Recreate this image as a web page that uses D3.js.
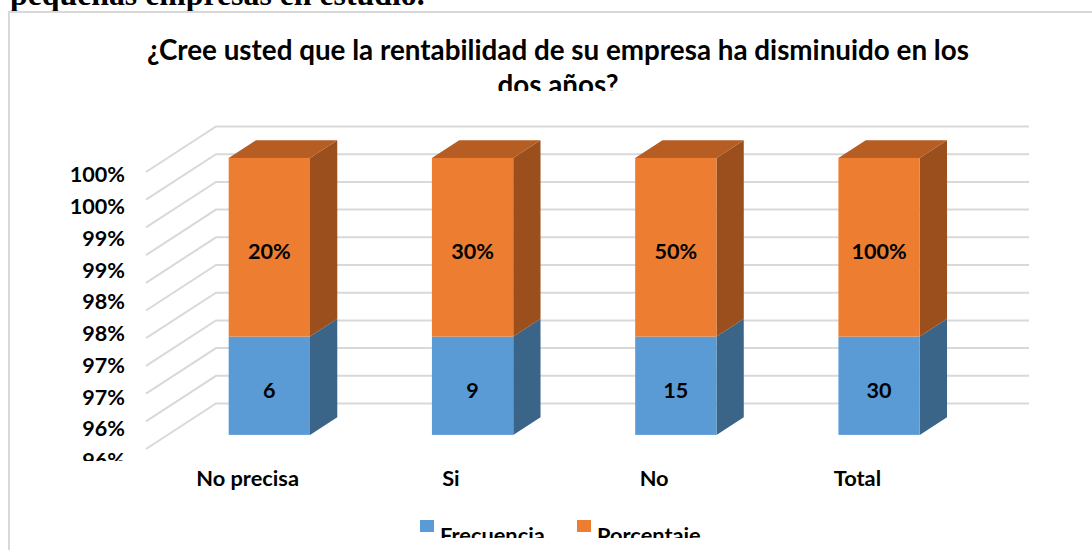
<!DOCTYPE html>
<html>
<head>
<meta charset="utf-8">
<script src="https://cdn.jsdelivr.net/npm/d3@7"></script>
<style>
  html, body { margin: 0; padding: 0; background: #fff; overflow: hidden; }
  text { font-family: Lato, sans-serif; font-weight: 700; fill: #000; }
</style>
</head>
<body>
<div id="chart"></div>
<script>
const categories = ["No precisa", "Si", "No", "Total"];
const frecuencia = [6, 9, 15, 30];
const porcentaje = [0.2, 0.3, 0.5, 1];
const yTickLabels = ["100%", "100%", "99%", "99%", "98%", "98%", "97%", "97%", "96%", "96%"];
const gridValues = [0.95, 0.955, 0.96, 0.965, 0.97, 0.975, 0.98, 0.985, 0.99, 0.995, 1];
const seriesNames = ["Frecuencia", "Porcentaje"];

const width = 1092;
const height = 550;

// the 3D floor: front edge to back edge of the plot box
const depthX = 70;
const depthY = -45.5;
const barFront = 0.31;
const barBack = 0.70;

const svg = d3.select('#chart')
  .append('svg')
  .attr('width', width)
  .attr('height', height);

const defs = svg.append('defs');
const clip = (id, x, y, w, h) => defs.append('clipPath').attr('id', id)
  .append('rect').attr('x', x).attr('y', y).attr('width', w).attr('height', h);
clip('titleClip', 0, 0, width, 91);
clip('yClip', 0, 0, 146, 461);
clip('legendClip', 0, 0, width, 538);

//Heading of the page behind the chart
svg.append('text')
  .attr('x', 10)
  .attr('y', 5)
  .style('font-family', '"Liberation Serif", serif')
  .style('font-size', '31.8px')
  .text('pequeñas empresas en estudio.');

//Chart frame
svg.append('rect')
  .attr('x', 9)
  .attr('y', 12)
  .attr('width', width + 20)
  .attr('height', height + 20)
  .attr('fill', 'none')
  .attr('stroke', '#d9d9d9')
  .attr('stroke-width', 2);

//Title
const title = svg.append('text')
  .attr('clip-path', 'url(#titleClip)')
  .attr('text-anchor', 'middle')
  .style('font-size', '27.8px');
title.append('tspan').attr('x', 558).attr('y', 60)
  .text('¿Cree usted que la rentabilidad de su empresa ha disminuido en los');
title.append('tspan').attr('x', 558).attr('y', 95)
  .text('dos años?');

//Scales
const x = d3.scaleBand()
  .domain(categories)
  .range([216, 1029])
  .paddingInner(0.6)
  .paddingOuter(0.3);

const y = d3.scaleLinear()
  .domain([0.95, 1])
  .range([449, 172]);

const yLabel = d3.scalePoint()
  .domain(d3.range(yTickLabels.length))
  .range([174.5, 460.5]);

//Gridlines, floor part then back wall part
const grid = svg.append('g').attr('class', 'grid');
grid.selectAll('path')
  .data(gridValues)
  .enter().append('path')
  .attr('d', d => `M146,${y(d)}L${146 + depthX},${y(d) + depthY}H1029`)
  .attr('fill', 'none')
  .attr('stroke', '#d9d9d9')
  .attr('stroke-width', 2);

//Y labels
svg.append('g')
  .attr('clip-path', 'url(#yClip)')
  .selectAll('text')
  .data(yTickLabels)
  .enter().append('text')
  .attr('x', 125)
  .attr('y', (d, i) => yLabel(i))
  .attr('dy', '0.36em')
  .attr('text-anchor', 'end')
  .style('font-size', '21.6px')
  .text(d => d);

//Bars
const colors = ["#5b9bd5", "#ed7d31"];
const sideColors = ["#3a6589", "#9a4f1c"];
const topColor = "#b55d22";

const share = i => frecuencia[i] / (frecuencia[i] + porcentaje[i]);
const fx = c => x(c) - depthX * (1 - barFront);
const dx = depthX * (barBack - barFront);
const dy = depthY * (barBack - barFront);
const frontOffset = depthY * barFront;

const bars = svg.append('g')
  .selectAll('g')
  .data(categories)
  .enter().append('g');

bars.each(function (c, i) {
  const g = d3.select(this);
  const x0 = fx(c);
  const w = x.bandwidth();
  const yBase = y(0.95) + frontOffset;
  const yMid = y(share(i)) + frontOffset;
  const yTop = y(1) + frontOffset;

  //sides
  g.append('path')
    .attr('d', `M${x0 + w},${yBase}l${dx},${dy}V${yMid + dy}L${x0 + w},${yMid}Z`)
    .attr('fill', sideColors[0]);
  g.append('path')
    .attr('d', `M${x0 + w},${yMid}l${dx},${dy}V${yTop + dy}L${x0 + w},${yTop}Z`)
    .attr('fill', sideColors[1]);
  //top
  g.append('path')
    .attr('d', `M${x0},${yTop}l${dx},${dy}h${w}l${-dx},${-dy}Z`)
    .attr('fill', topColor);
  //fronts
  g.append('rect')
    .attr('x', x0).attr('y', yMid)
    .attr('width', w).attr('height', yBase - yMid)
    .attr('fill', colors[0]);
  g.append('rect')
    .attr('x', x0).attr('y', yTop)
    .attr('width', w).attr('height', yMid - yTop)
    .attr('fill', colors[1]);
  //data labels
  g.append('text')
    .attr('x', x0 + w / 2)
    .attr('y', (yBase + yMid) / 2 + 4)
    .attr('dy', '0.36em')
    .attr('text-anchor', 'middle')
    .style('font-size', '21.6px')
    .text(frecuencia[i]);
  g.append('text')
    .attr('x', x0 + w / 2)
    .attr('y', (yMid + yTop) / 2 + 4)
    .attr('dy', '0.36em')
    .attr('text-anchor', 'middle')
    .style('font-size', '21.6px')
    .text(d3.format('.0%')(porcentaje[i]));
});

//Category labels
svg.append('g')
  .selectAll('text')
  .data(categories)
  .enter().append('text')
  .attr('x', d => x(d) + x.bandwidth() / 2 - depthX)
  .attr('y', 478)
  .attr('dy', '0.36em')
  .attr('text-anchor', 'middle')
  .style('font-size', '21.8px')
  .text(d => d);

//Legend
const legend = svg.append('g').attr('clip-path', 'url(#legendClip)');
const legendX = [420, 577];
legend.selectAll('rect')
  .data(seriesNames)
  .enter().append('rect')
  .attr('x', (d, i) => legendX[i])
  .attr('y', 520)
  .attr('width', 14)
  .attr('height', 12)
  .attr('fill', (d, i) => colors[i]);
legend.selectAll('text')
  .data(seriesNames)
  .enter().append('text')
  .attr('x', (d, i) => legendX[i] + 20)
  .attr('y', 543)
  .style('font-size', '21.8px')
  .text(d => d);
</script>
</body>
</html>
